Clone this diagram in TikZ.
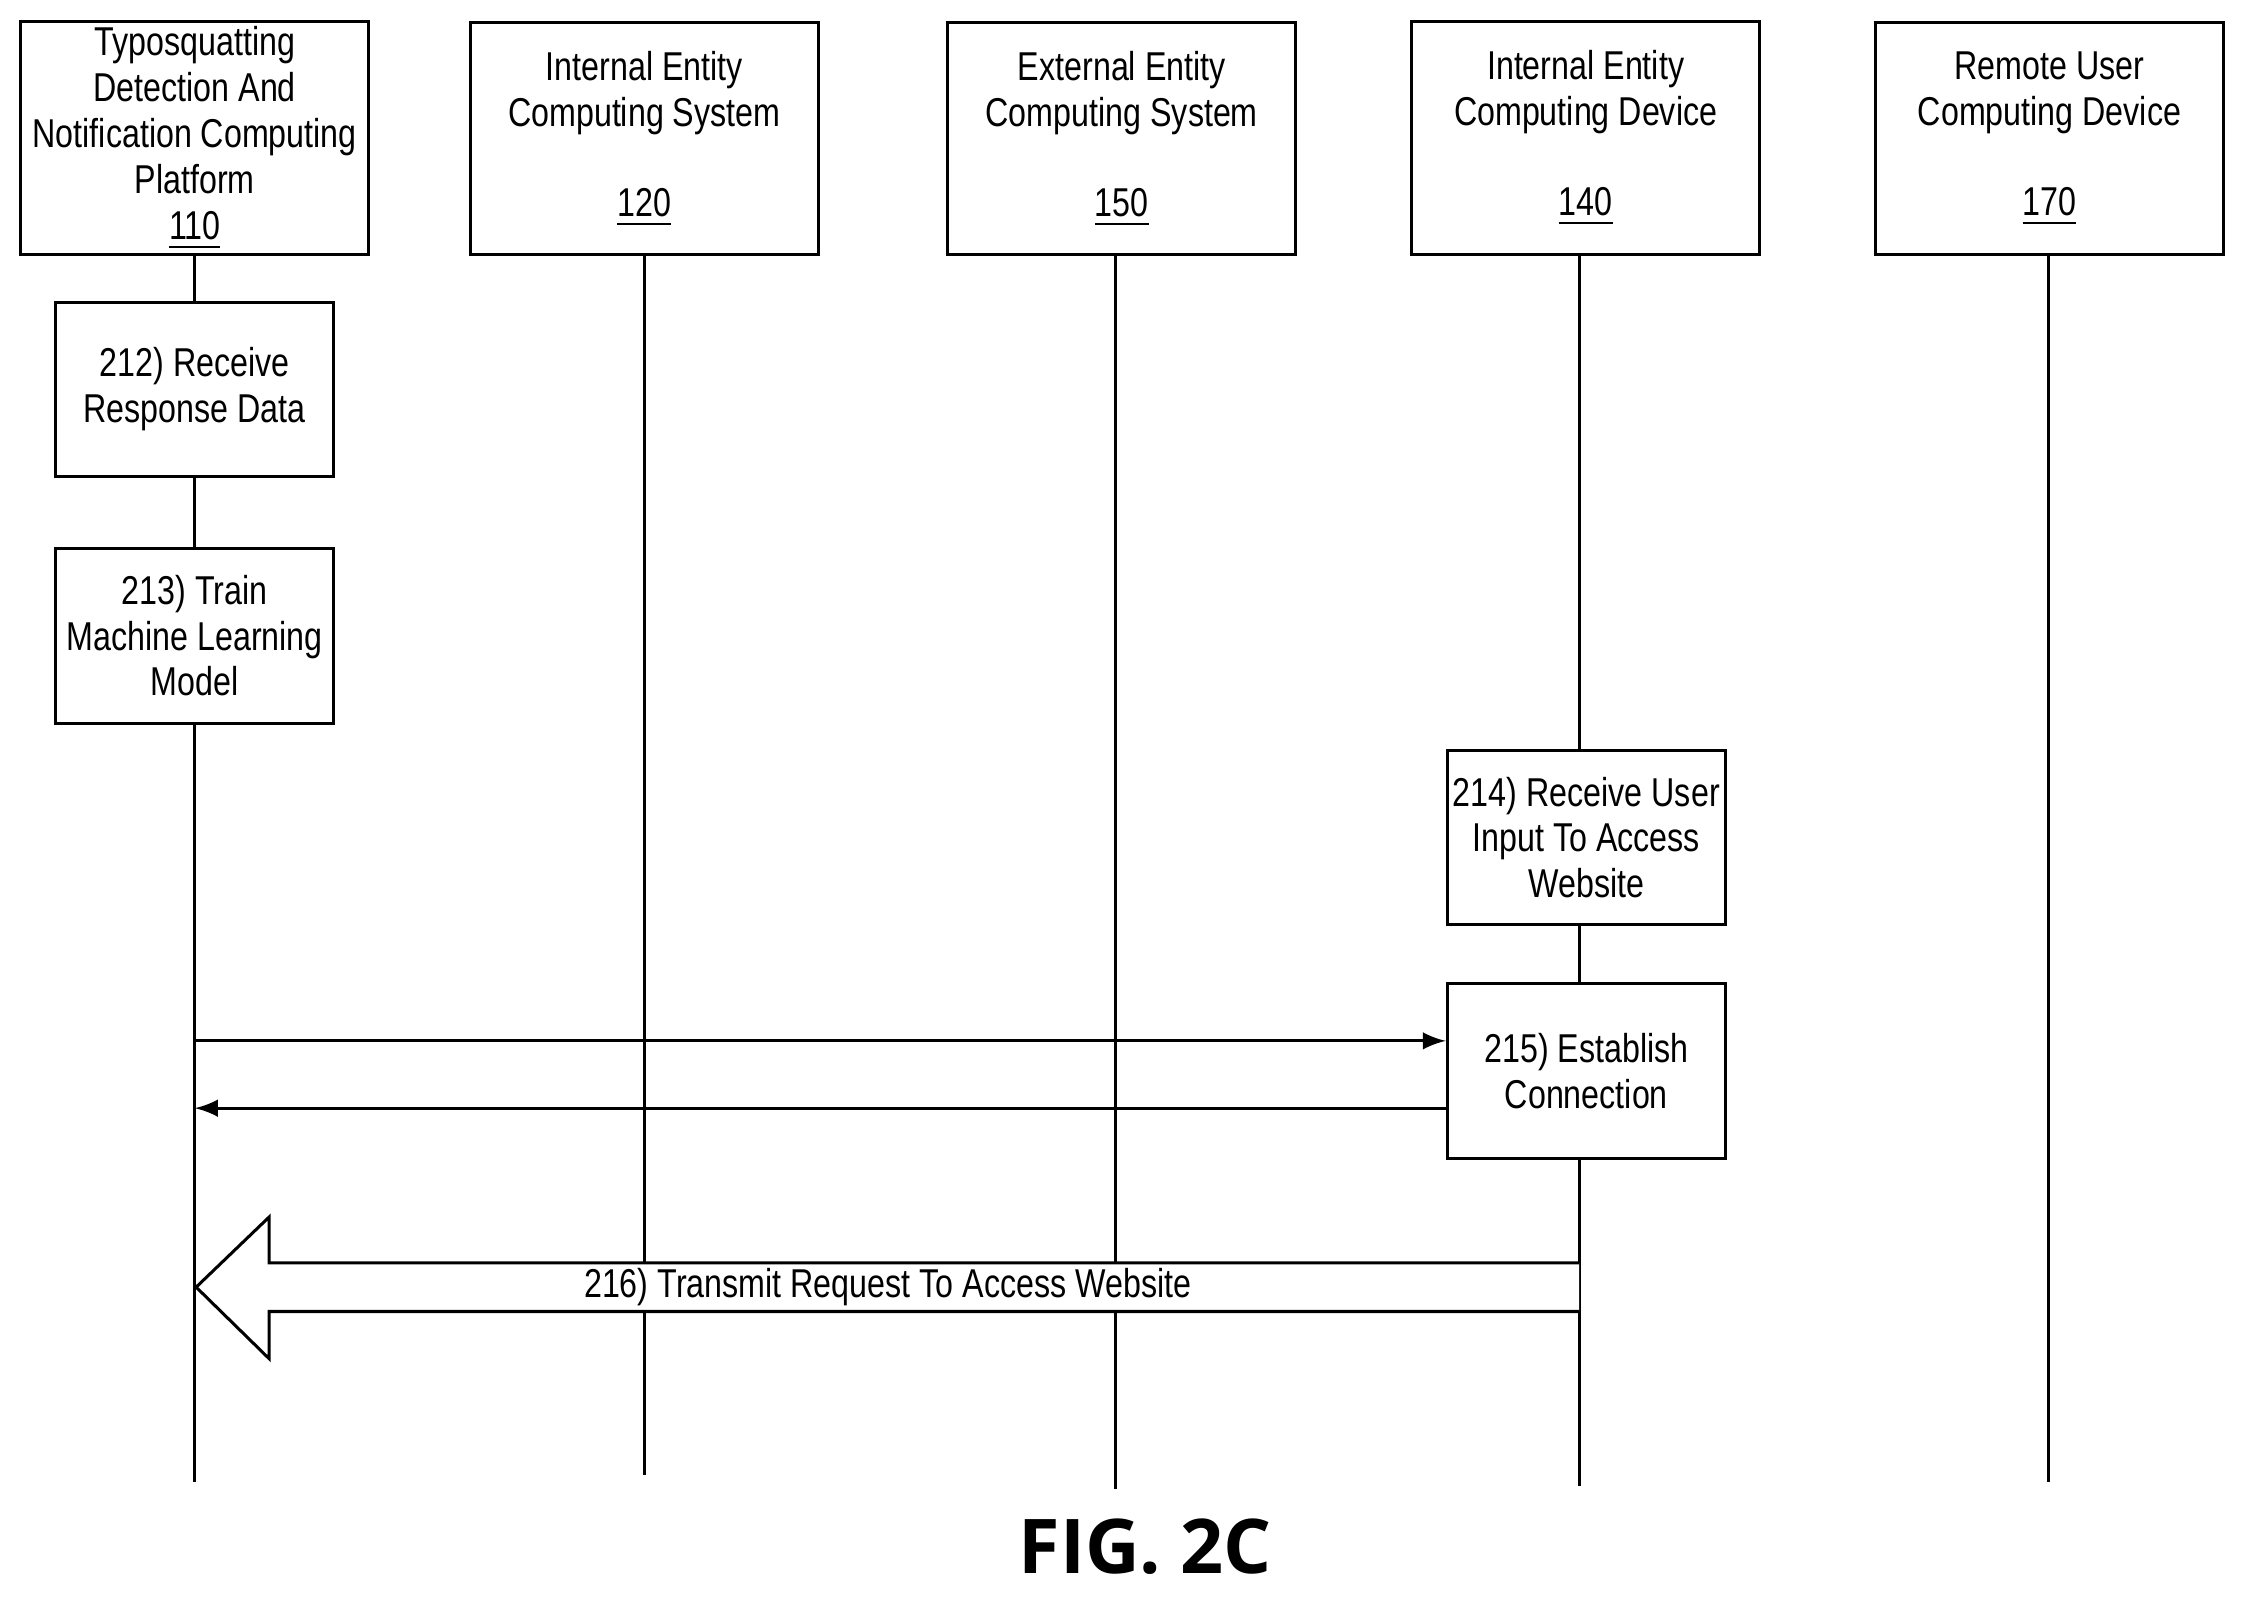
\documentclass[tikz,border=0pt]{standalone}
\usepackage{fontspec}
\setmainfont{Liberation Sans}[FakeStretch=0.8]
\newfontfamily\figfont{Open Sans}
\begin{document}
\begin{tikzpicture}[x=0.01cm,y=-0.01cm,
 box/.style={draw,line width=0.6pt,inner sep=0pt,align=center,font=\fontsize{8pt}{9.1pt}\selectfont},
 ln/.style={line width=0.6pt}]
\useasboundingbox (0,0) rectangle (1568,1115);
\foreach \n/\x in {a/136,b/450,c/779,d/1103,e/1431}{\coordinate (\n top) at (\x,178);}
\draw[ln] (atop)--(136,1035) (btop)--(450,1030);
\draw[ln] (ctop)--(779,1040) (dtop)--(1103,1038) (etop)--(1431,1035);
\node[box,fill=white,minimum width=2.43cm,minimum height=1.63cm] (h1) at (136,96.5) {Typosquatting\\Detection And\\Notification Computing\\Platform\\\underline{110}};
\node[box,fill=white,minimum width=2.43cm,minimum height=1.62cm] (h2) at (450,97) {Internal Entity\\Computing System\\[1.1em]\underline{120}};
\node[box,fill=white,minimum width=2.43cm,minimum height=1.62cm] (h3) at (783.5,97) {External Entity\\Computing System\\[1.1em]\underline{150}};
\node[box,fill=white,minimum width=2.43cm,minimum height=1.63cm] (h4) at (1107.5,96.5) {Internal Entity\\Computing Device\\[1.1em]\underline{140}};
\node[box,fill=white,minimum width=2.43cm,minimum height=1.62cm] (h5) at (1431.5,97) {Remote User\\Computing Device\\[1.1em]\underline{170}};
\node[box,fill=white,minimum width=1.94cm,minimum height=1.22cm] (s212) at (136,272) {212) Receive\\Response Data};
\node[box,fill=white,minimum width=1.94cm,minimum height=1.22cm] (s213) at (136,444) {213) Train\\Machine Learning\\Model};
\node[box,fill=white,minimum width=1.94cm,minimum height=1.22cm] (s214) at (1108,585) {214) Receive User\\Input To Access\\Website};
\node[box,fill=white,minimum width=1.94cm,minimum height=1.22cm] (s215) at (1108,748) {215) Establish\\Connection};
\coordinate (a1) at (136,727); \coordinate (a2) at (136,774);
\draw[ln,-latex] (a1) -- (a1 -| s215.west);
\draw[ln,-latex] (a2 -| s215.west) -- (a2);
\coordinate (tip) at (137,899);
\draw[line width=0.6pt,fill=white] (1103,882) -- (188,882) -- (188,850) -- (tip) -- (188,949) -- (188,916) -- (1103,916);
\node[font=\fontsize{8pt}{9.1pt}\selectfont] (t216) at (620,899) {216) Transmit Request To Access Website};
\node[font=\figfont\fontsize{15pt}{18pt}\selectfont\bfseries] (fig) at (800,1080) {FIG. 2C};
\end{tikzpicture}
\end{document}
